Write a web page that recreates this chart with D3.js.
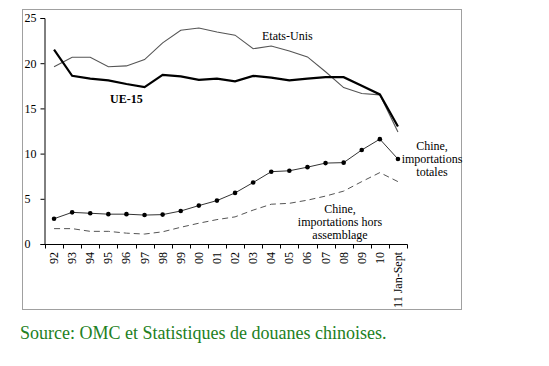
<!DOCTYPE html>
<html><head><meta charset="utf-8">
<script src="https://cdn.jsdelivr.net/npm/d3@7"></script>
<style>body{margin:0;background:#fff}svg{display:block}</style>
</head><body>
<svg id="c" width="549" height="366"></svg>
<script>
const categories = ["92","93","94","95","96","97","98","99","00","01","02","03","04","05","06","07","08","09","10","11 Jan-Sept"];
const ue15 =       [21.5,18.6,18.3,18.1,17.7,17.35,18.7,18.55,18.15,18.3,18.0,18.6,18.4,18.1,18.3,18.45,18.45,17.5,16.55,13.0];
const etatsUnis =  [19.6,20.65,20.65,19.6,19.7,20.4,22.25,23.65,23.9,23.45,23.1,21.6,21.9,21.35,20.7,19.05,17.3,16.65,16.5,12.4];
const chineTot =   [2.8,3.5,3.4,3.3,3.3,3.2,3.25,3.65,4.25,4.8,5.65,6.8,8.0,8.1,8.5,8.95,9.0,10.4,11.6,9.4];
const chineHors =  [1.7,1.7,1.4,1.4,1.2,1.1,1.35,1.85,2.3,2.7,3.0,3.75,4.4,4.5,4.85,5.3,5.85,6.9,7.9,6.9];
const yTicks = [0,5,10,15,20,25];

const svg = d3.select("#c");
const serif = "'Liberation Serif','Times New Roman',serif";

svg.append("rect").attr("x",22.5).attr("y",9.5).attr("width",439).attr("height",300)
  .attr("fill","#fff").attr("stroke","#a0a0a0").attr("stroke-width",1);

const x = d3.scaleBand().domain(categories).range([45,407]);
const y = d3.scaleLinear().domain([0,25]).range([244,18]);
const cx = d => x(d) + x.bandwidth()/2;

// Y axis
const ya = svg.append("g").attr("transform","translate(44.5,0)")
  .call(d3.axisLeft(y).tickValues(yTicks).tickSize(4).tickFormat(d3.format("d")));
ya.select(".domain").attr("stroke","#000");
ya.selectAll(".tick line").attr("stroke","#000");
ya.selectAll("text").attr("x",-20).attr("text-anchor","start")
  .style("font-family",serif).style("font-size","12px").attr("fill","#000");

// X axis
const xa = svg.append("g").attr("transform","translate(0,244.5)")
  .call(d3.axisBottom(x).tickSize(0).tickFormat(""));
xa.select(".domain").attr("d","M44.5,0H407.5").attr("stroke","#000");
xa.selectAll(".tick").remove();
const edges = categories.map(c => x(c)).concat([x(categories[categories.length-1])+x.bandwidth()]);
xa.selectAll("line.t").data(edges).join("line").attr("class","t")
  .attr("x1",d=>Math.round(d)+0.5).attr("x2",d=>Math.round(d)+0.5).attr("y1",0).attr("y2",4).attr("stroke","#000");
svg.append("g").selectAll("text").data(categories).join("text")
  .attr("transform",d=>`translate(${cx(d)+4},252) rotate(-90)`)
  .attr("text-anchor","end")
  .style("font-family",serif).style("font-size","12px").attr("fill","#000")
  .text(d=>d);

const line = d3.line().x((d,i)=>cx(categories[i])).y(d=>y(d));

svg.append("path").datum(etatsUnis).attr("d",line).attr("fill","none")
  .attr("stroke","#555").attr("stroke-width",1.1);
svg.append("path").datum(ue15).attr("d",line).attr("fill","none")
  .attr("stroke","#000").attr("stroke-width",2.2);
svg.append("path").datum(chineHors).attr("d",line).attr("fill","none")
  .attr("stroke","#555").attr("stroke-width",1).attr("stroke-dasharray","6,4");
svg.append("path").datum(chineTot).attr("d",line).attr("fill","none")
  .attr("stroke","#333").attr("stroke-width",1);
svg.append("g").selectAll("circle").data(chineTot).join("circle")
  .attr("cx",(d,i)=>cx(categories[i])).attr("cy",d=>y(d)).attr("r",2.3).attr("fill","#000");

function label(lines, xp, y0, dy, opts={}) {
  const t = svg.append("text").attr("text-anchor",opts.anchor||"middle")
    .style("font-family",serif).style("font-size","12px").attr("fill","#000")
    .style("font-weight",opts.bold?"bold":"normal");
  lines.forEach((l,i)=>t.append("tspan").attr("x",xp).attr("y",y0+i*dy).text(l));
}
label(["Etats-Unis"], 262, 40, 0, {anchor:"start"});
label(["UE-15"], 110, 103, 0, {anchor:"start", bold:true});
label(["Chine,","importations","totales"], 432, 150, 13);
label(["Chine,","importations hors","assemblage"], 340, 213, 13);

svg.append("text").attr("x",20).attr("y",339)
  .style("font-family",serif).style("font-size","18px").attr("fill","#228022")
  .text("Source: OMC et Statistiques de douanes chinoises.");
</script>
</body></html>
